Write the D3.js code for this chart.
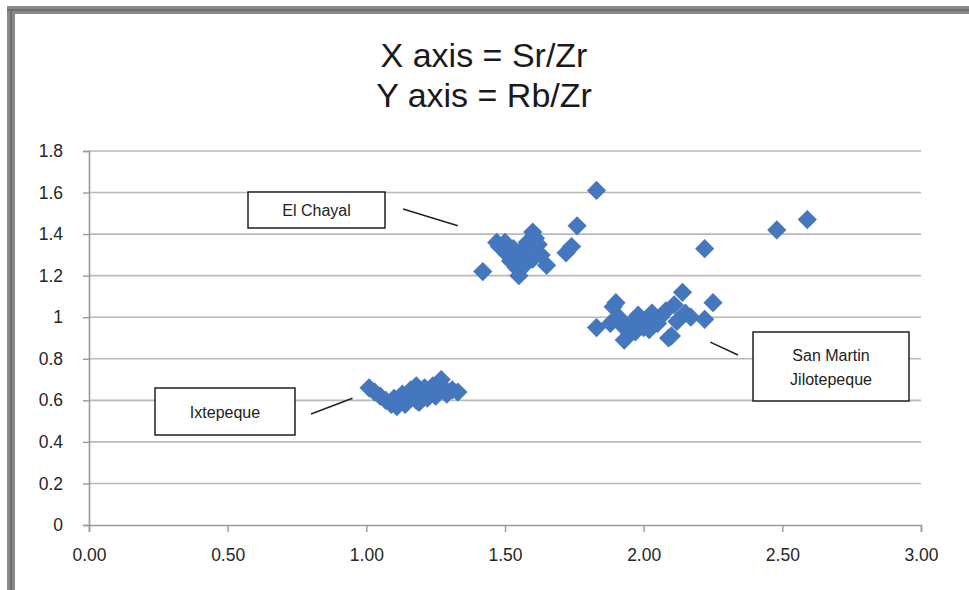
<!DOCTYPE html>
<html>
<head>
<meta charset="utf-8">
<script src="https://cdn.jsdelivr.net/npm/d3@7"></script>
<style>
  body { margin: 0; background: #fff; }
  svg { display: block; font-family: "Liberation Sans", Arial, sans-serif; }
</style>
</head>
<body>
<div id="chart"></div>
<script>
// Sr/Zr (x) and Rb/Zr (y), one pair of arrays per source
const chayalX = [1.42, 1.48, 1.50, 1.51, 1.52, 1.53, 1.54, 1.55, 1.56, 1.56, 1.57, 1.58, 1.59, 1.60, 1.61, 1.62, 1.60, 1.63, 1.65, 1.53, 1.50, 1.47, 1.72, 1.74, 1.76, 1.83, 2.22, 2.48, 2.59];
const chayalY = [1.22, 1.34, 1.36, 1.30, 1.27, 1.33, 1.24, 1.20, 1.28, 1.32, 1.25, 1.36, 1.30, 1.41, 1.38, 1.35, 1.28, 1.30, 1.25, 1.29, 1.32, 1.36, 1.31, 1.34, 1.44, 1.61, 1.33, 1.42, 1.47];

const sanMartinX = [1.83, 1.88, 1.89, 1.90, 1.91, 1.93, 1.95, 1.96, 1.97, 1.98, 2.00, 2.01, 2.02, 2.03, 2.05, 2.06, 2.08, 2.10, 2.11, 2.12, 2.14, 2.15, 2.17, 2.22, 2.25, 1.93, 2.09];
const sanMartinY = [0.95, 0.97, 1.05, 1.07, 1.00, 0.95, 0.92, 0.98, 0.93, 1.01, 0.95, 0.99, 0.94, 1.02, 0.97, 1.00, 1.03, 0.91, 1.06, 0.98, 1.12, 1.02, 1.00, 0.99, 1.07, 0.89, 0.90];

const ixtepequeX = [1.01, 1.03, 1.05, 1.07, 1.09, 1.10, 1.11, 1.12, 1.13, 1.14, 1.15, 1.16, 1.17, 1.18, 1.18, 1.19, 1.20, 1.21, 1.22, 1.23, 1.24, 1.25, 1.26, 1.27, 1.28, 1.29, 1.31, 1.33];
const ixtepequeY = [0.66, 0.64, 0.62, 0.60, 0.58, 0.61, 0.57, 0.59, 0.63, 0.58, 0.60, 0.65, 0.62, 0.67, 0.60, 0.59, 0.63, 0.66, 0.61, 0.64, 0.67, 0.62, 0.68, 0.70, 0.66, 0.63, 0.65, 0.64];

const xTicks = [0, 0.5, 1, 1.5, 2, 2.5, 3];
const yTicks = [0, 0.2, 0.4, 0.6, 0.8, 1, 1.2, 1.4, 1.6, 1.8];
const titleLines = ["X axis = Sr/Zr", "Y axis = Rb/Zr"];

// callouts: anchor point in data units, box in pixels
const callouts = [
  { lines: ["El Chayal"], box: [248, 192, 137, 36], from: [403, 209], to: [1.33, 1.44] },
  { lines: ["San Martin", "Jilotepeque"], box: [753, 332, 156, 69], from: [738, 355], to: [2.24, 0.88] },
  { lines: ["Ixtepeque"], box: [155, 388, 140, 47], from: [311, 414], to: [0.95, 0.61] }
];

const width = 969, height = 590;
const svg = d3.select('#chart').append('svg')
  .attr('width', width)
  .attr('height', height);

// screenshot frame: grey bar on top and left
svg.append('rect').attr('x', 7).attr('y', 6).attr('width', width - 7).attr('height', 8).attr('fill', '#8a8a8a');
svg.append('rect').attr('x', 7).attr('y', 6).attr('width', 8).attr('height', height - 6).attr('fill', '#8a8a8a');
svg.append('rect').attr('x', 7).attr('y', 9).attr('width', width - 7).attr('height', 2).attr('fill', '#6e6e6e');
svg.append('rect').attr('x', 10).attr('y', 9).attr('width', 2).attr('height', height - 9).attr('fill', '#6e6e6e');

const x = d3.scaleLinear().domain([0, 3]).range([89, 921]);
const y = d3.scaleLinear().domain([0, 1.8]).range([525, 151]);

// title
svg.append('g').selectAll('text')
  .data(titleLines)
  .join('text')
  .attr('x', 484)
  .attr('y', (d, i) => 67 + i * 40)
  .attr('text-anchor', 'middle')
  .attr('font-size', 34)
  .attr('fill', '#1a1a1a')
  .text(d => d);

// horizontal gridlines
svg.append('g').selectAll('line')
  .data(yTicks.filter(d => d > 0))
  .join('line')
  .attr('x1', x(0)).attr('x2', x(3))
  .attr('y1', d => y(d)).attr('y2', d => y(d))
  .attr('stroke', '#b9b9b9')
  .attr('stroke-width', 1.6);

// axes
const xAxis = d3.axisBottom(x).tickValues(xTicks).tickFormat(d3.format('.2f')).tickSize(7).tickPadding(17);
const yAxis = d3.axisLeft(y).tickValues(yTicks).tickFormat(d => d3.format('')(+d.toFixed(1))).tickSize(6).tickPadding(20);

const gx = svg.append('g').attr('transform', `translate(0,${y(0)})`).call(xAxis);
const gy = svg.append('g').attr('transform', `translate(${x(0)},0)`).call(yAxis);

[gx, gy].forEach(g => {
  g.select('.domain').attr('stroke', '#9a9a9a').attr('stroke-width', 1.6);
  g.selectAll('.tick line').attr('stroke', '#9a9a9a').attr('stroke-width', 1.4);
  g.selectAll('.tick text')
    .attr('font-size', 17.5)
    .attr('font-family', '"Liberation Sans", Arial, sans-serif')
    .attr('fill', '#262626');
});

// points
const diamond = d3.symbol(d3.symbolSquare, 185)();
const groups = [
  [chayalX, chayalY],
  [sanMartinX, sanMartinY],
  [ixtepequeX, ixtepequeY]
];
const points = groups.flatMap(([xs, ys]) => xs.map((v, i) => [v, ys[i]]));

svg.append('g').selectAll('path')
  .data(points)
  .join('path')
  .attr('d', diamond)
  .attr('transform', d => `translate(${x(d[0])},${y(d[1])}) rotate(45)`)
  .attr('fill', '#4577be');

// callouts
const cg = svg.append('g');
callouts.forEach(c => {
  cg.append('line')
    .attr('x1', c.from[0]).attr('y1', c.from[1])
    .attr('x2', x(c.to[0])).attr('y2', y(c.to[1]))
    .attr('stroke', '#222')
    .attr('stroke-width', 1.5);
  const [bx, by, bw, bh] = c.box;
  cg.append('rect')
    .attr('x', bx).attr('y', by).attr('width', bw).attr('height', bh)
    .attr('fill', '#fff')
    .attr('stroke', '#111')
    .attr('stroke-width', 1.4);
  const lh = 24;
  const startY = by + bh / 2 - (c.lines.length - 1) * lh / 2 + 6;
  c.lines.forEach((t, i) => {
    cg.append('text')
      .attr('x', bx + bw / 2)
      .attr('y', startY + i * lh)
      .attr('text-anchor', 'middle')
      .attr('font-size', 16)
      .attr('fill', '#222')
      .text(t);
  });
});
</script>
</body>
</html>
